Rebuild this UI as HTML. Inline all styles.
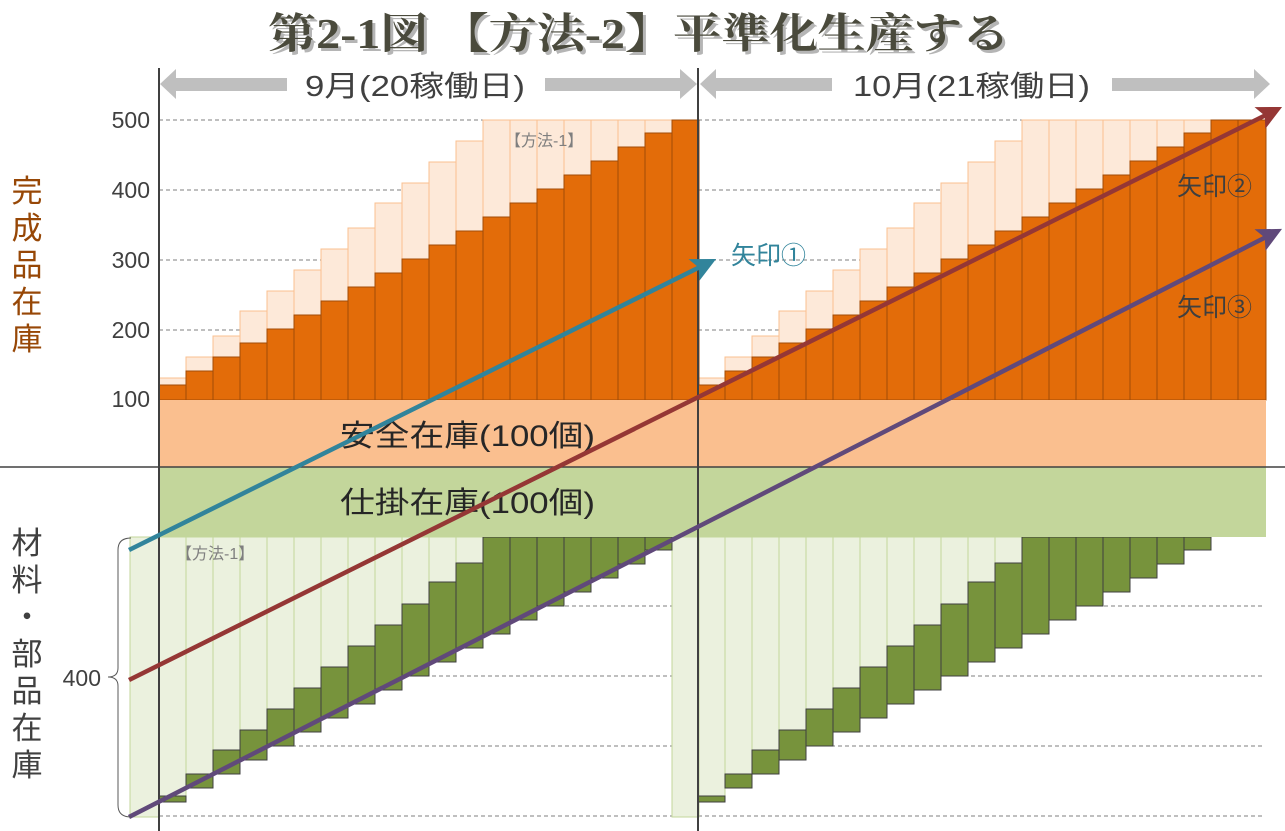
<!DOCTYPE html>
<html><head><meta charset="utf-8">
<style>
html,body{margin:0;padding:0;background:#fff;}
svg{display:block;}
text{font-family:"Liberation Sans","Noto Sans CJK JP",sans-serif;}
text.ttl{font-family:"Liberation Serif","Noto Serif CJK SC","Noto Serif CJK JP",serif;font-weight:bold;font-size:42px;}
</style></head>
<body>
<svg width="1285" height="831" viewBox="0 0 1285 831" xmlns="http://www.w3.org/2000/svg">
<defs>
<marker id="m1" markerWidth="6" markerHeight="6" refX="3" refY="3" orient="auto" markerUnits="strokeWidth"><path d="M0,0.3 L5.5,3 L0,5.7 L1.2,3 Z" fill="#31849b"/></marker>
<marker id="m2" markerWidth="6" markerHeight="6" refX="3" refY="3" orient="auto" markerUnits="strokeWidth"><path d="M0,0.3 L5.5,3 L0,5.7 L1.2,3 Z" fill="#953735"/></marker>
<marker id="m3" markerWidth="6" markerHeight="6" refX="3" refY="3" orient="auto" markerUnits="strokeWidth"><path d="M0,0.3 L5.5,3 L0,5.7 L1.2,3 Z" fill="#60497a"/></marker>
</defs>

<g stroke="#7f7f7f" stroke-width="1" stroke-dasharray="4,3">
<line x1="159" y1="120" x2="1266" y2="120"/>
<line x1="159" y1="190" x2="1266" y2="190"/>
<line x1="159" y1="260" x2="1266" y2="260"/>
<line x1="159" y1="330" x2="1266" y2="330"/>
<line x1="159" y1="606" x2="1264" y2="606"/>
<line x1="159" y1="676" x2="1264" y2="676"/>
<line x1="159" y1="746" x2="1264" y2="746"/>
<line x1="159" y1="816" x2="1264" y2="816"/>
</g>

<g id="ul" fill="#fde9d9" stroke="#fac090" stroke-width="1">
<rect x="159" y="378" width="27" height="22"/><rect x="186" y="357" width="27" height="43"/><rect x="213" y="336" width="27" height="64"/><rect x="240" y="311" width="27" height="89"/><rect x="267" y="291" width="27" height="109"/><rect x="294" y="270" width="27" height="130"/><rect x="321" y="249" width="27" height="151"/><rect x="348" y="228" width="27" height="172"/><rect x="375" y="203" width="27" height="197"/><rect x="402" y="183" width="27" height="217"/><rect x="429" y="162" width="27" height="238"/><rect x="456" y="141" width="27" height="259"/><rect x="483" y="120" width="27" height="280"/><rect x="510" y="120" width="27" height="280"/><rect x="537" y="120" width="27" height="280"/><rect x="564" y="120" width="27" height="280"/><rect x="591" y="120" width="27" height="280"/><rect x="618" y="120" width="27" height="280"/><rect x="645" y="120" width="27" height="280"/>
</g>
<use href="#ul" x="539"/>
<rect x="1211" y="120" width="27" height="280" fill="#fde9d9" stroke="#fac090"/>
<g id="ud" fill="#e36c09" stroke="#a24b06" stroke-width="1">
<rect x="159" y="385" width="27" height="15"/><rect x="186" y="371" width="27" height="29"/><rect x="213" y="357" width="27" height="43"/><rect x="240" y="343" width="27" height="57"/><rect x="267" y="329" width="27" height="71"/><rect x="294" y="315" width="27" height="85"/><rect x="321" y="301" width="27" height="99"/><rect x="348" y="287" width="27" height="113"/><rect x="375" y="273" width="27" height="127"/><rect x="402" y="259" width="27" height="141"/><rect x="429" y="245" width="27" height="155"/><rect x="456" y="231" width="27" height="169"/><rect x="483" y="217" width="27" height="183"/><rect x="510" y="203" width="27" height="197"/><rect x="537" y="189" width="27" height="211"/><rect x="564" y="175" width="27" height="225"/><rect x="591" y="161" width="27" height="239"/><rect x="618" y="147" width="27" height="253"/><rect x="645" y="133" width="27" height="267"/><rect x="672" y="120" width="27" height="280"/>
</g>
<use href="#ud" x="539"/>
<rect x="1238" y="120" width="28" height="280" fill="#e36c09" stroke="#a24b06"/>

<g id="ll" fill="#ebf1de" stroke="#c3d69b" stroke-width="1">
<rect x="159" y="537" width="27" height="259"/><rect x="186" y="537" width="27" height="237"/><rect x="213" y="537" width="27" height="213"/><rect x="240" y="537" width="27" height="193"/><rect x="267" y="537" width="27" height="172"/><rect x="294" y="537" width="27" height="151"/><rect x="321" y="537" width="27" height="130"/><rect x="348" y="537" width="27" height="109"/><rect x="375" y="537" width="27" height="88"/><rect x="402" y="537" width="27" height="67"/><rect x="429" y="537" width="27" height="45"/><rect x="456" y="537" width="27" height="26"/>
</g>
<use href="#ll" x="539"/>
<rect x="130" y="537" width="29" height="280" fill="#ebf1de" stroke="#c3d69b"/>
<rect x="672" y="537" width="27" height="280" fill="#ebf1de" stroke="#c3d69b"/>
<g id="ld" fill="#77933c" stroke="#3f3f3f" stroke-width="1">
<rect x="159" y="796" width="27" height="6"/><rect x="186" y="774" width="27" height="14"/><rect x="213" y="750" width="27" height="24"/><rect x="240" y="730" width="27" height="30"/><rect x="267" y="709" width="27" height="37"/><rect x="294" y="688" width="27" height="44"/><rect x="321" y="667" width="27" height="51"/><rect x="348" y="646" width="27" height="58"/><rect x="375" y="625" width="27" height="65"/><rect x="402" y="604" width="27" height="72"/><rect x="429" y="582" width="27" height="80"/><rect x="456" y="563" width="27" height="85"/><rect x="483" y="537" width="27" height="97"/><rect x="510" y="537" width="27" height="83"/><rect x="537" y="537" width="27" height="69"/><rect x="564" y="537" width="27" height="55"/><rect x="591" y="537" width="27" height="41"/><rect x="618" y="537" width="27" height="27"/><rect x="645" y="537" width="27" height="13"/>
</g>
<use href="#ld" x="539"/>

<rect x="159" y="400" width="1107" height="67" fill="#fabf8f"/>
<rect x="159" y="467" width="1107" height="70" fill="#c3d69b"/>
<text x="340" y="446" font-size="30" fill="#262626" textLength="255" lengthAdjust="spacingAndGlyphs">安全在庫(100個)</text>
<text x="340" y="513" font-size="30" fill="#262626" textLength="255" lengthAdjust="spacingAndGlyphs">仕掛在庫(100個)</text>

<line x1="0" y1="467" x2="1285" y2="467" stroke="#404040" stroke-width="1.5"/>
<line x1="159" y1="68" x2="159" y2="831" stroke="#404040" stroke-width="2"/>
<line x1="698" y1="68" x2="698" y2="831" stroke="#404040" stroke-width="2"/>

<text x="505" y="146" font-size="16" fill="#7f7f7f">【方法-1】</text>
<text x="176" y="559" font-size="16" fill="#7f7f7f">【方法-1】</text>

<line x1="129" y1="550" x2="706" y2="264" stroke="#31849b" stroke-width="4.5" marker-end="url(#m1)"/>
<line x1="129" y1="680" x2="1272" y2="112" stroke="#953735" stroke-width="4.5" marker-end="url(#m2)"/>
<line x1="129" y1="817" x2="1272" y2="234" stroke="#60497a" stroke-width="4.5" marker-end="url(#m3)"/>
<text x="731" y="264" font-size="25" fill="#31849b">矢印①</text>
<text x="1177" y="195" font-size="25" fill="#3f3f3f">矢印②</text>
<text x="1177" y="316" font-size="25" fill="#3f3f3f">矢印③</text>

<g font-size="23" fill="#404040" text-anchor="end">
<text x="150" y="128">500</text>
<text x="150" y="198">400</text>
<text x="150" y="268">300</text>
<text x="150" y="338">200</text>
<text x="150" y="407">100</text>
<text x="101" y="686">400</text>
</g>
<path d="M131,538 Q118,538 118,550 L118,668 Q118,677 108,677 Q118,677 118,686 L118,805 Q118,817 131,817" fill="none" stroke="#595959" stroke-width="1"/>

<g font-size="31" fill="#974706" text-anchor="middle">
<text x="27" y="202">完</text><text x="27" y="239">成</text><text x="27" y="276">品</text><text x="27" y="313">在</text><text x="27" y="350">庫</text>
</g>
<g font-size="31" fill="#404040" text-anchor="middle">
<text x="27" y="554">材</text><text x="27" y="591">料</text><text x="27" y="628">・</text><text x="27" y="665">部</text><text x="27" y="702">品</text><text x="27" y="739">在</text><text x="27" y="776">庫</text>
</g>

<g fill="#bfbfbf">
<polygon points="160,84 176,69 176,78 287,78 287,91 176,91 176,99"/>
<polygon points="545,78 680,78 680,69 697,84 680,99 680,91 545,91"/>
<polygon points="700,84 716,69 716,78 832,78 832,91 716,91 716,99"/>
<polygon points="1112,78 1254,78 1254,69 1270,84 1254,99 1254,91 1112,91"/>
</g>
<text x="305" y="96" font-size="29" fill="#404040" textLength="220" lengthAdjust="spacingAndGlyphs">9月(20稼働日)</text>
<text x="853" y="96" font-size="29" fill="#404040" textLength="237" lengthAdjust="spacingAndGlyphs">10月(21稼働日)</text>

<text class="ttl" x="271" y="51" fill="#b5b5b5" textLength="742" lengthAdjust="spacingAndGlyphs">第2-1図 【方法-2】平準化生産する</text>
<text class="ttl" x="268" y="48" fill="#4a4a3c" textLength="742" lengthAdjust="spacingAndGlyphs">第2-1図 【方法-2】平準化生産する</text>
</svg>
</body></html>
